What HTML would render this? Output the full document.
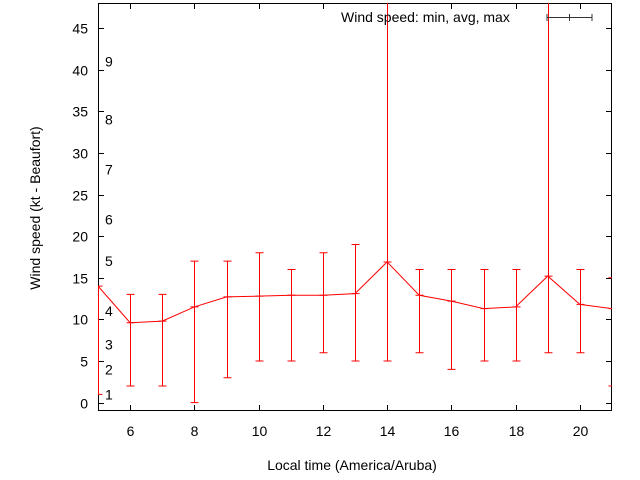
<!DOCTYPE html>
<html><head><meta charset="utf-8"><style>
body{margin:0;background:#fff;}
svg{display:block;font-family:"Liberation Sans",sans-serif;}
</style></head><body>
<svg id="chart" width="640" height="480"></svg>
<script>
const hours=[5,6,7,8,9,10,11,12,13,14,15,16,17,18,19,20,21];
const avgSpeed=[14,9.6,9.8,11.5,12.7,12.8,12.9,12.9,13.1,16.9,12.9,12.2,11.3,11.5,15.2,11.8,11.3];
const minSpeed=[1,2,2,0,3,5,5,6,5,5,6,4,5,5,6,6,2];
const maxSpeed=[14,13,13,17,17,18,16,18,19,60,16,16,16,16,60,16,15];
const yTicks=[0,5,10,15,20,25,30,35,40,45];
const xTicks=[6,8,10,12,14,16,18,20];
const beaufortLabels=["1","2","3","4","5","6","7","8","9"];
const beaufortLimits=[1,4,7,11,17,22,28,34,41];

const L=98,R=612,T=3,B=411,xMin=5,xMax=21,yMin=-1,yMax=48;
const sx=v=>L+(v-xMin)/(xMax-xMin)*(R-L);
const sy=v=>B-(v-yMin)/(yMax-yMin)*(B-T);
const svg=document.getElementById('chart');
const NS='http://www.w3.org/2000/svg';
function mk(tag,attrs,parent){const e=document.createElementNS(NS,tag);for(const k in attrs)e.setAttribute(k,attrs[k]);(parent||svg).appendChild(e);return e;}
const clip=mk('clipPath',{id:'pc'});mk('rect',{x:L,y:T,width:R-L,height:B-T},clip);

const frame=mk('rect',{x:L+0.5,y:T+0.5,width:R-L-1,height:B-T-1,fill:'none',stroke:'#000','stroke-width':1});



yTicks.forEach(v=>{
  const y=Math.round(sy(v))+0.5;
  const t=mk('path',{d:`M${L} ${y}h6M${R} ${y}h-6`,stroke:'#000'});
  
  
  const lb=mk('text',{x:L-10,y:y+5,'text-anchor':'end','font-size':14});
  lb.textContent=v;
  
  
});
xTicks.forEach(v=>{
  const x=Math.round(sx(v))+0.5;
  const t=mk('path',{d:`M${x} ${B}v-6M${x} ${T}v6`,stroke:'#000'});
  
  
  const lb=mk('text',{x:x,y:B+25,'text-anchor':'middle','font-size':14});
  lb.textContent=v;
  
  
});
beaufortLabels.forEach((s,i)=>{
  const lb=mk('text',{x:105,y:sy(beaufortLimits[i])+5,'font-size':14});
  lb.textContent=s;
  
  
});

const g=mk('g',{'clip-path':'url(#pc)'});
const line=mk('polyline',{points:hours.map((h,i)=>sx(h)+','+sy(avgSpeed[i])).join(' '),fill:'none',stroke:'#f00','stroke-width':1},g);


hours.forEach((h,i)=>{
  const x=Math.round(sx(h))+0.5;
  const y1=sy(minSpeed[i]),y2=sy(maxSpeed[i]),ya=sy(avgSpeed[i]);
  const eb=mk('path',{d:`M${x} ${y1}V${y2}M${x-4} ${y1}h8M${x-4} ${y2}h8M${x-4} ${ya}h8`,stroke:'#f00','stroke-width':1,fill:'none'},g);
  
  
});

const lg=mk('text',{x:341,y:22,'font-size':14});
lg.textContent='Wind speed: min, avg, max';


const ls=mk('path',{d:'M547 17.5h45M547 14v7M592 14v7M569.5 14v7',stroke:'#333'});



const xt=mk('text',{x:352,y:470,'text-anchor':'middle','font-size':14});
xt.textContent='Local time (America/Aruba)';


const yt=mk('text',{x:0,y:0,'text-anchor':'middle','font-size':14,transform:'translate(40,208) rotate(-90)'});
yt.textContent='Wind speed (kt - Beaufort)';


</script>
</body></html>
